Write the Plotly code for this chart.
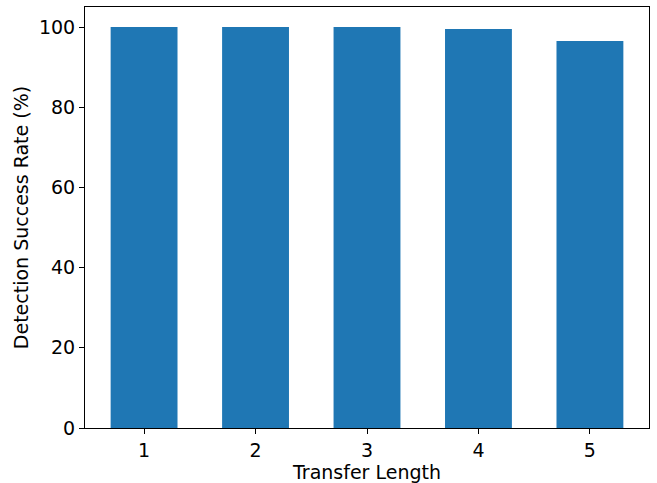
import plotly.graph_objects as go

categories = [1, 2, 3, 4, 5]
success_rate = [100.0, 100.0, 100.0, 99.5, 96.5]
y_ticks = [0, 20, 40, 60, 80, 100]

fig = go.Figure(go.Bar(x=categories, y=success_rate, width=0.6,
                       marker=dict(color="#1f77b4", line=dict(width=0))))

FS = 19
axis_common = dict(showline=True, linecolor="black", linewidth=1, mirror=True,
                   ticks="outside", ticklen=5, tickwidth=1, tickcolor="black",
                   showgrid=False, zeroline=False, automargin=False,
                   tickfont=dict(family="DejaVu Sans", size=FS, color="black"))

fig.update_xaxes(range=[0.47, 5.53], tickvals=categories, ticktext=[str(c) for c in categories],
                 title=dict(text="Transfer Length", font=dict(family="DejaVu Sans", size=FS, color="black"), standoff=2),
                 **axis_common)
fig.update_yaxes(range=[0, 105], tickvals=y_ticks,
                 title=dict(text="Detection Success Rate (%)", font=dict(family="DejaVu Sans", size=FS, color="black"), standoff=5),
                 **axis_common)

fig.update_layout(width=657, height=483, margin=dict(l=85, r=8, t=7, b=55),
                  plot_bgcolor="white", paper_bgcolor="white", showlegend=False,
                  font=dict(family="DejaVu Sans"))

fig.write_html("out.html", config={"displayModeBar": False},
               post_script="document.body.style.margin='0';")
